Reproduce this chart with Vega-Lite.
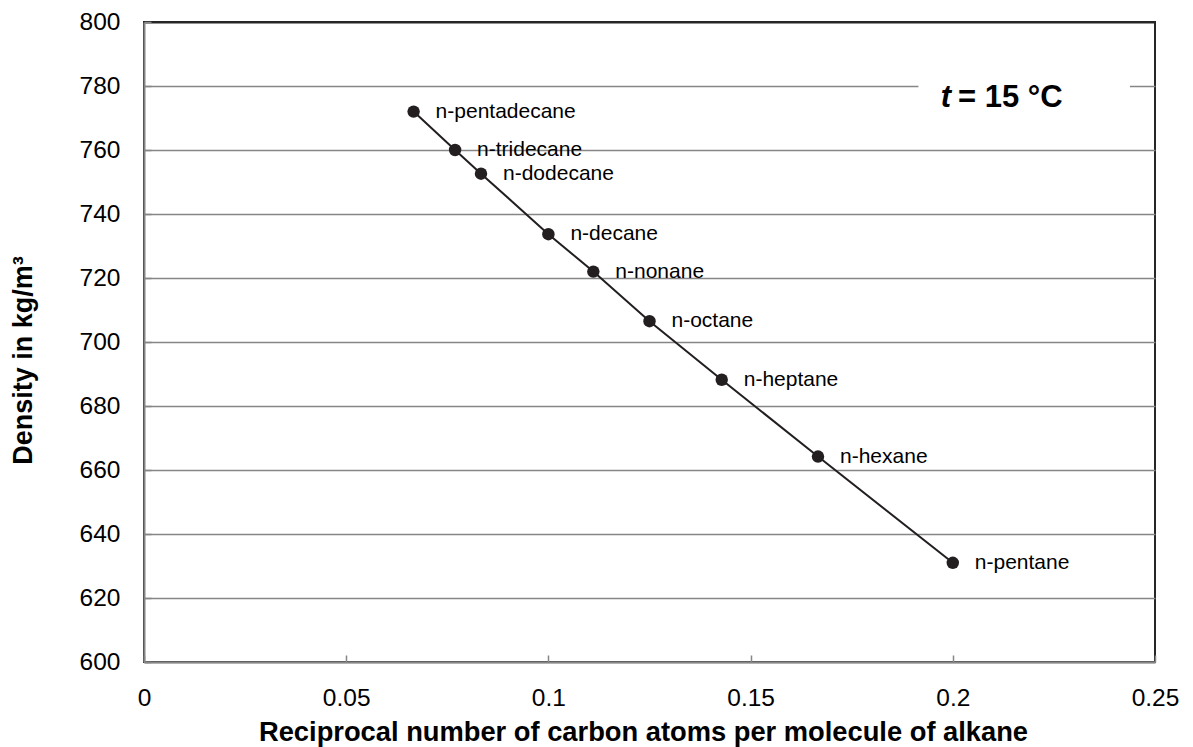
{
  "$schema": "https://vega.github.io/schema/vega-lite/v6.json",
  "width": 1011,
  "height": 640,
  "autosize": {"type": "none"},
  "padding": {"left": 144, "top": 22, "right": 38, "bottom": 85},
  "background": "white",
  "config": {
    "font": "Liberation Sans",
    "view": {"stroke": "#262626", "strokeWidth": 2}
  },
  "data": {
    "values": [
      {"name": "n-pentadecane", "x": 0.066667, "density": 772},
      {"name": "n-tridecane", "x": 0.076923, "density": 760},
      {"name": "n-dodecane", "x": 0.083333, "density": 752.6},
      {"name": "n-decane", "x": 0.1, "density": 733.7},
      {"name": "n-nonane", "x": 0.111111, "density": 722},
      {"name": "n-octane", "x": 0.125, "density": 706.5},
      {"name": "n-heptane", "x": 0.142857, "density": 688.2},
      {"name": "n-hexane", "x": 0.166667, "density": 664.2},
      {"name": "n-pentane", "x": 0.2, "density": 631}
    ]
  },
  "layer": [
    {
      "mark": {"type": "line", "color": "#231f20", "strokeWidth": 2},
      "encoding": {
        "x": {
          "field": "x",
          "type": "quantitative",
          "scale": {"domain": [0, 0.25], "nice": false, "zero": false},
          "axis": {
            "title": "Reciprocal number of carbon atoms per molecule of alkane",
            "values": [0, 0.05, 0.1, 0.15, 0.2, 0.25],
            "format": "~g",
            "grid": false,
            "domainColor": "#868686",
            "domainWidth": 2,
            "tickColor": "#868686",
            "tickWidth": 1.5,
            "tickSize": -7,
            "labelFontSize": 24.5,
            "labelColor": "#000000",
            "labelPadding": 31,
            "labelFlush": false,
            "labelOverlap": false,
            "titleFontSize": 27.3,
            "titleFontWeight": "bold",
            "titleColor": "#000000",
            "titleX": 499,
            "titleY": 78,
            "titleBaseline": "alphabetic"
          }
        },
        "y": {
          "field": "density",
          "type": "quantitative",
          "scale": {"domain": [600, 800], "nice": false, "zero": false},
          "axis": {
            "title": "Density in kg/m³",
            "values": [600, 620, 640, 660, 680, 700, 720, 740, 760, 780, 800],
            "format": "d",
            "grid": true,
            "gridColor": {"condition": {"test": "datum.value == 800", "value": "#262626"}, "value": "#868686"},
            "gridWidth": {"condition": {"test": "datum.value == 800", "value": 2}, "value": 1.4},
            "domainColor": "#868686",
            "domainWidth": 2,
            "tickColor": "#868686",
            "tickWidth": 1.5,
            "tickSize": -7,
            "labelFontSize": 24.5,
            "labelColor": "#000000",
            "labelPadding": 31,
            "labelFlush": false,
            "labelOverlap": false,
            "titleFontSize": 27,
            "titleFontWeight": "bold",
            "titleColor": "#000000",
            "titleAngle": -90,
            "titleX": -121,
            "titleY": 338,
            "titleAlign": "center",
            "titleBaseline": "middle"
          }
        },
        "order": {"field": "x", "type": "quantitative"}
      }
    },
    {
      "mark": {"type": "circle", "color": "#231f20", "opacity": 1, "size": 155},
      "encoding": {
        "x": {"field": "x", "type": "quantitative"},
        "y": {"field": "density", "type": "quantitative"}
      }
    },
    {
      "mark": {"type": "text", "align": "left", "baseline": "middle", "dx": 22, "fontSize": 21, "color": "#000000"},
      "encoding": {
        "x": {"field": "x", "type": "quantitative"},
        "y": {"field": "density", "type": "quantitative"},
        "text": {"field": "name"}
      }
    },
    {
      "transform": [{"filter": "datum.name == 'n-pentane'"}],
      "mark": {"type": "rect", "color": "white", "opacity": 1},
      "encoding": {
        "x": {"datum": 0.1915, "type": "quantitative"},
        "x2": {"datum": 0.2438},
        "y": {"datum": 774, "type": "quantitative"},
        "y2": {"datum": 786}
      }
    },
    {
      "transform": [{"filter": "datum.name == 'n-pentane'"}],
      "mark": {"type": "text", "align": "right", "baseline": "alphabetic", "dx": -7, "fontSize": 31, "fontWeight": "bold", "fontStyle": "italic", "color": "#000000", "text": "t"},
      "encoding": {
        "x": {"datum": 0.2013, "type": "quantitative"},
        "y": {"datum": 773.5, "type": "quantitative"}
      }
    },
    {
      "transform": [{"filter": "datum.name == 'n-pentane'"}],
      "mark": {"type": "text", "align": "left", "baseline": "alphabetic", "fontSize": 31, "fontWeight": "bold", "color": "#000000", "text": "= 15 °C"},
      "encoding": {
        "x": {"datum": 0.2013, "type": "quantitative"},
        "y": {"datum": 773.5, "type": "quantitative"}
      }
    }
  ]
}
